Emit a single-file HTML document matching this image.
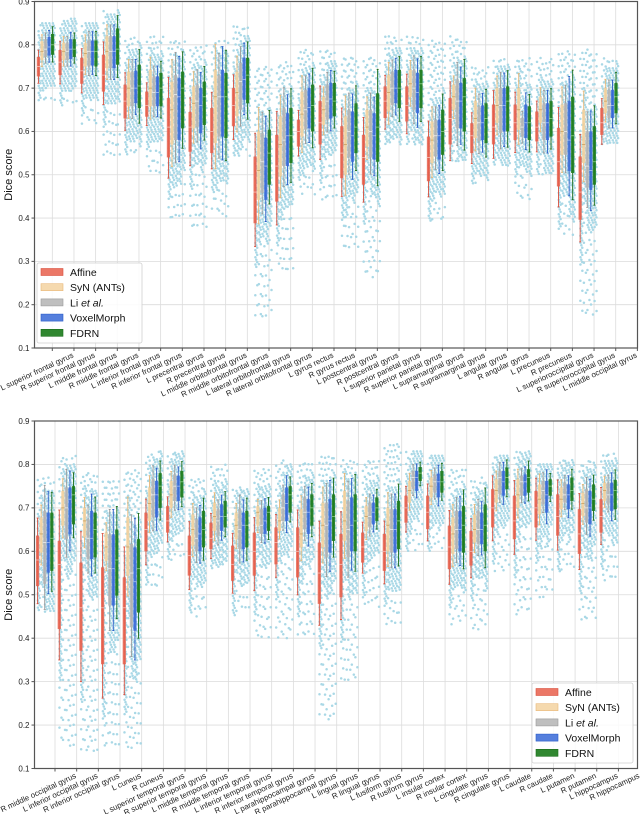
<!DOCTYPE html>
<html><head><meta charset="utf-8">
<style>
html,body{margin:0;padding:0;background:#fff;}
svg{display:block;font-family:"Liberation Sans","DejaVu Sans",sans-serif;}
</style></head>
<body>
<svg id="chart" width="640" height="814" viewBox="0 0 640 814" xmlns="http://www.w3.org/2000/svg"></svg>
<script>
const methods = ["Affine","SyN (ANTs)","Li et al.","VoxelMorph","FDRN"];
const topLabels = ["L superior frontal gyrus","R superior frontal gyrus","L middle frontal gyrus","R middle frontal gyrus","L inferior frontal gyrus","R inferior frontal gyrus","L precentral gyrus","R precentral gyrus","L middle orbitofrontal gyrus","R middle orbitofrontal gyrus","L lateral orbitofrontal gyrus","R lateral orbitofrontal gyrus","L gyrus rectus","R gyrus rectus","L postcentral gyrus","R postcentral gyrus","L superior parietal gyrus","R superior parietal gyrus","L supramarginal gyrus","R supramarginal gyrus","L angular gyrus","R angular gyrus","L precuneus","R precuneus","L superioroccipital gyrus","R superioroccipital gyrus","L middle occipital gyrus"];
const botLabels = ["R middle occipital gyrus","L inferior occipital gyrus","R inferior occipital gyrus","L cuneus","R cuneus","L superior temporal gyrus","R superior temporal gyrus","L middle temporal gyrus","R middle temporal gyrus","L inferior temporal gyrus","R inferior temporal gyrus","L parahippocampal gyrus","R parahippocampal gyrus","L lingual gyrus","R lingual gyrus","L fusiform gyrus","R fusiform gyrus","L insular cortex","R insular cortex","L cingulate gyrus","R cingulate gyrus","L caudate","R caudate","L putamen","R putamen","L hippocampus","R hippocampus"];
const yTicks = [0.1,0.2,0.3,0.4,0.5,0.6,0.7,0.8,0.9];
const yTickLabels = ["0.1","0.2","0.3","0.4","0.5","0.6","0.7","0.8","0.9"];
// [q1, median, q3]
const topAffine = [[.727,.75,.772],[.73,.76,.788],[.71,.74,.77],[.692,.73,.777],[.63,.67,.708],[.634,.66,.692],[.54,.61,.677],[.553,.61,.645],[.55,.60,.654],[.612,.66,.70],[.388,.46,.542],[.438,.52,.592],[.565,.60,.627],[.57,.62,.67],[.492,.55,.612],[.477,.54,.592],[.631,.67,.704],[.623,.66,.704],[.485,.54,.588],[.57,.63,.677],[.55,.59,.619],[.57,.61,.662],[.58,.62,.662],[.577,.61,.646],[.473,.53,.608],[.396,.46,.542],[.592,.62,.654]];
const topSyn = [[.765,.785,.808],[.765,.785,.805],[.75,.78,.804],[.746,.785,.82],[.658,.70,.738],[.658,.70,.742],[.57,.65,.715],[.607,.665,.704],[.573,.68,.742],[.635,.69,.738],[.442,.51,.60],[.496,.57,.635],[.588,.64,.692],[.615,.65,.68],[.50,.57,.635],[.565,.61,.65],[.646,.69,.73],[.68,.71,.742],[.527,.58,.623],[.65,.68,.708],[.585,.63,.67],[.62,.66,.70],[.604,.65,.70],[.62,.65,.68],[.546,.60,.662],[.527,.57,.65],[.642,.67,.70]];
const topLi = [[.772,.79,.813],[.765,.785,.805],[.75,.785,.81],[.746,.785,.82],[.658,.70,.738],[.658,.69,.727],[.58,.685,.73],[.61,.67,.708],[.588,.68,.73],[.65,.715,.758],[.458,.53,.596],[.52,.58,.654],[.604,.65,.696],[.627,.67,.708],[.54,.60,.65],[.54,.60,.65],[.661,.70,.738],[.65,.70,.742],[.542,.59,.627],[.607,.67,.72],[.577,.62,.658],[.596,.66,.70],[.588,.61,.631],[.58,.62,.665],[.546,.60,.665],[.47,.52,.60],[.631,.66,.696]];
const topVM = [[.775,.795,.818],[.767,.79,.813],[.752,.785,.81],[.746,.785,.82],[.665,.70,.74],[.658,.69,.727],[.58,.68,.723],[.596,.66,.70],[.588,.68,.742],[.673,.72,.77],[.442,.52,.585],[.52,.59,.642],[.607,.655,.70],[.63,.675,.712],[.53,.59,.646],[.535,.59,.642],[.665,.70,.742],[.642,.69,.735],[.535,.59,.627],[.607,.67,.712],[.58,.62,.66],[.60,.66,.70],[.585,.62,.662],[.58,.62,.665],[.508,.58,.67],[.465,.51,.60],[.631,.66,.696]];
const topFDRN = [[.777,.80,.825],[.772,.79,.813],[.75,.785,.81],[.754,.79,.838],[.654,.705,.754],[.658,.70,.735],[.607,.70,.738],[.615,.68,.715],[.585,.68,.735],[.665,.73,.77],[.477,.55,.604],[.527,.59,.654],[.60,.66,.708],[.635,.67,.712],[.55,.61,.665],[.53,.61,.688],[.654,.70,.742],[.654,.71,.742],[.546,.60,.65],[.60,.68,.723],[.573,.63,.665],[.60,.67,.704],[.58,.62,.658],[.588,.63,.67],[.504,.59,.68],[.477,.53,.612],[.642,.68,.712]];
const topPtsLo = [.67,.66,.61,.54,.54,.50,.40,.37,.40,.54,.17,.28,.45,.43,.33,.26,.57,.57,.39,.53,.48,.52,.44,.50,.36,.17,.57];
const topPtsHi = [.85,.86,.85,.88,.82,.82,.81,.80,.81,.85,.75,.76,.79,.79,.77,.77,.82,.82,.81,.82,.75,.77,.77,.77,.79,.79,.77];

const botAffine = [[.52,.58,.636],[.421,.57,.624],[.371,.47,.574],[.34,.47,.563],[.34,.47,.54],[.60,.65,.689],[.643,.67,.704],[.544,.59,.636],[.605,.63,.666],[.532,.57,.613],[.544,.60,.643],[.57,.62,.655],[.54,.60,.655],[.479,.55,.62],[.494,.57,.64],[.574,.61,.643],[.555,.60,.64],[.666,.70,.728],[.651,.69,.728],[.559,.61,.659],[.567,.60,.647],[.655,.70,.743],[.628,.67,.728],[.655,.70,.739],[.636,.68,.731],[.594,.64,.697],[.643,.68,.72]];
const botSyn = [[.597,.64,.678],[.659,.70,.739],[.632,.67,.70],[.578,.61,.643],[.544,.61,.678],[.67,.71,.747],[.70,.73,.762],[.613,.65,.685],[.647,.68,.712],[.628,.66,.689],[.659,.69,.704],[.647,.67,.70],[.609,.64,.697],[.609,.66,.712],[.624,.67,.739],[.647,.68,.704],[.60,.66,.70],[.712,.74,.762],[.724,.75,.77],[.594,.64,.678],[.62,.65,.685],[.712,.74,.766],[.70,.73,.766],[.685,.72,.754],[.697,.72,.747],[.681,.71,.735],[.716,.74,.758]];
const botLi = [[.525,.62,.693],[.628,.70,.747],[.582,.63,.674],[.475,.56,.639],[.425,.55,.617],[.678,.73,.766],[.716,.75,.777],[.60,.63,.674],[.636,.67,.697],[.605,.65,.697],[.64,.66,.697],[.67,.70,.731],[.651,.69,.724],[.586,.66,.712],[.586,.65,.716],[.655,.68,.712],[.597,.65,.697],[.743,.77,.785],[.735,.76,.777],[.605,.65,.693],[.617,.65,.693],[.731,.77,.785],[.728,.76,.774],[.708,.74,.762],[.712,.73,.758],[.666,.70,.743],[.708,.73,.758]];
const botVM = [[.551,.62,.689],[.639,.72,.747],[.582,.63,.693],[.475,.56,.639],[.417,.53,.609],[.678,.73,.762],[.716,.75,.774],[.60,.64,.678],[.647,.68,.708],[.605,.66,.689],[.64,.67,.70],[.67,.71,.747],[.64,.69,.72],[.597,.67,.72],[.60,.66,.724],[.662,.69,.712],[.597,.65,.697],[.739,.77,.785],[.724,.76,.779],[.60,.65,.693],[.617,.65,.689],[.728,.76,.785],[.728,.76,.777],[.689,.73,.762],[.697,.73,.754],[.662,.70,.739],[.693,.73,.758]];
const botFDRN = [[.555,.63,.689],[.662,.73,.75],[.586,.65,.689],[.498,.58,.65],[.459,.56,.628],[.70,.75,.78],[.724,.76,.785],[.609,.65,.693],[.655,.68,.716],[.609,.66,.693],[.647,.69,.704],[.689,.73,.75],[.659,.70,.731],[.624,.68,.731],[.60,.67,.731],[.67,.70,.724],[.605,.67,.716],[.762,.78,.794],[.735,.76,.785],[.597,.66,.704],[.60,.66,.708],[.743,.77,.793],[.735,.77,.789],[.728,.75,.766],[.716,.74,.77],[.693,.72,.754],[.697,.74,.764]];
const botPtsLo = [.46,.15,.13,.15,.14,.52,.58,.45,.56,.45,.40,.40,.40,.21,.30,.47,.43,.60,.60,.43,.42,.55,.45,.49,.55,.44,.53];
const botPtsHi = [.77,.82,.78,.77,.79,.83,.83,.77,.80,.75,.79,.81,.81,.82,.81,.81,.85,.83,.82,.79,.77,.82,.83,.80,.81,.81,.83];

const NS = "http://www.w3.org/2000/svg";
const svg = document.getElementById("chart");
function mk(tag, attrs, parent){ const e=document.createElementNS(NS,tag); for(const k in attrs) e.setAttribute(k,attrs[k]); (parent||svg).appendChild(e); return e; }

const fills = ["rgba(232,95,75,0.85)","rgba(243,210,160,0.85)","rgba(180,180,180,0.85)","rgba(55,105,215,0.85)","rgba(30,125,30,0.92)"];
const strokes = ["#d9503e","#e8b878","#9a9a9a","#2a5cc8","#1a6e1a"];
const medCols = ["#f6c0b8","#c9a060","#eeeeee","#a8c0f0","#8ccf8c"];
const boxNames = ["affine","syn","li","voxelmorph","fdrn"];

function drawPanel(p){
  const g = mk("g",{});
  
  
  const L=34.5, R=637.5, T=p.top, B=p.bottom;
  const y = v => T + (0.9 - v)/0.8*(B-T);
  const xg = k => p.g0 + k*21.67;
  const xt = k => p.t0 + k*21.67;
  const grid = mk("g",{},g);
  
  
  yTicks.forEach(v=>{ mk("line",{x1:L,x2:R,y1:y(v),y2:y(v),stroke:"#dcdcdc","stroke-width":0.8},grid); });
  for(let k=0;k<28;k++){ const x=xt(k); if(x<R) mk("line",{x1:x,x2:x,y1:T,y2:B,stroke:"#dcdcdc","stroke-width":0.8},grid); }
  const dots = mk("g",{fill:"#a9d8e6"},g);
  
  
  const sets = p.sets;
  for(let k=0;k<p.labels.length;k++){
    const lo=p.ptsLo[k], hi=p.ptsHi[k];
    for(let m=0;m<5;m++){
      const d=sets[m][k]; const cx=xg(k)+(m-2)*3.55 + 1.2;
      const iqr=d[2]-d[0];
      const dLo=Math.max(lo,d[0]-0.06-iqr*0.3), dHi=Math.min(hi,d[2]+0.05);
      let n=0;
      for(let yy=y(dHi); yy<=y(dLo); yy+=2.4){ mk("circle",{cx:cx+((n++%3)-1)*0.9,cy:yy.toFixed(1),r:1.25},dots); }
      for(let yy=y(dLo)+6+m*1.7; yy<=y(lo); yy+=10){ mk("circle",{cx:cx+((n++%2)?1:-1),cy:yy.toFixed(1),r:1.25},dots); }
      for(let yy=y(dHi)-4-m*1.1; yy>=y(hi); yy-=6){ mk("circle",{cx:cx+((n++%2)?1:-1),cy:yy.toFixed(1),r:1.25},dots); }
    }
  }
  for(let k=0;k<p.labels.length;k++){
    for(let m=0;m<5;m++){
      const d=sets[m][k]; const cx=xg(k)+(m-2)*3.55;
      const iqr=d[2]-d[0];
      const wLo=Math.max(p.ptsLo[k], d[0]-0.35*iqr), wHi=Math.min(p.ptsHi[k], d[2]+0.35*iqr);
      const bg=mk("g",{},g);
      
      
      mk("line",{x1:cx,x2:cx,y1:y(wHi),y2:y(wLo),stroke:strokes[m],"stroke-width":0.9},bg);
      mk("line",{x1:cx-1,x2:cx+1,y1:y(wHi),y2:y(wHi),stroke:strokes[m],"stroke-width":0.9},bg);
      mk("line",{x1:cx-1,x2:cx+1,y1:y(wLo),y2:y(wLo),stroke:strokes[m],"stroke-width":0.9},bg);
      mk("rect",{x:cx-1.6,y:y(d[2]),width:3.2,height:Math.max(1,y(d[0])-y(d[2])),fill:fills[m]},bg);
      mk("line",{x1:cx-1.6,x2:cx+1.6,y1:y(d[1]),y2:y(d[1]),stroke:medCols[m],"stroke-width":0.8},bg);
    }
  }
  const fr=mk("rect",{x:L,y:T,width:R-L,height:B-T,fill:"none",stroke:"#555","stroke-width":1.2},g);
  
  
  yTicks.forEach((v,i)=>{
    mk("line",{x1:L-3,x2:L,y1:y(v),y2:y(v),stroke:"#555","stroke-width":1},g);
    const t=mk("text",{x:L-5,y:y(v)+2.8,"font-size":8,"text-anchor":"end",fill:"#222"},g);
    t.textContent=yTickLabels[i];
    
    
  });
  const yt=mk("text",{x:0,y:0,"font-size":11,"text-anchor":"middle",fill:"#111",transform:`translate(12,${(T+B)/2}) rotate(-90)`},g);
  yt.textContent="Dice score";
  
  
  for(let k=0;k<28;k++){ const x=xt(k); if(x<=R) mk("line",{x1:x,x2:x,y1:B,y2:B+3,stroke:"#555","stroke-width":1},g); }
  p.labels.forEach((lab,k)=>{
    const x=xt(k+1);
    const t=mk("text",{x:0,y:0,"font-size":7.8,"text-anchor":"end",fill:"#222",transform:`translate(${x.toFixed(1)},${B+9}) rotate(-25)`},g);
    t.textContent=lab;
    
    
  });
  const lg=mk("g",{},g);
  
  
  mk("rect",{x:p.lx,y:p.ly,width:p.lw,height:80,fill:"rgba(255,255,255,0.85)",stroke:"#d0d0d0","stroke-width":0.8,rx:2},lg);
  methods.forEach((mname,m)=>{
    const ey=p.ly+9+m*15.2;
    const e=mk("g",{},lg);
    
    
    mk("rect",{x:p.lx+4,y:ey-3.5,width:22,height:7,fill:fills[m],stroke:strokes[m],"stroke-width":0.6},e);
    const t=mk("text",{x:p.lx+33,y:ey+4,"font-size":10.5,fill:"#111"},e);
    if(m===2){ t.textContent="Li "; const it=mk("tspan",{"font-style":"italic"},t); it.textContent="et al."; }
    else t.textContent=mname;
  });
}

drawPanel({name:"top-panel",top:1.5,bottom:348,g0:45.5,t0:52.3,labels:topLabels,sets:[topAffine,topSyn,topLi,topVM,topFDRN],ptsLo:topPtsLo,ptsHi:topPtsHi,lx:37,ly:263,lw:105});
drawPanel({name:"bottom-panel",top:421,bottom:768.5,g0:44.7,t0:55,labels:botLabels,sets:[botAffine,botSyn,botLi,botVM,botFDRN],ptsLo:botPtsLo,ptsHi:botPtsHi,lx:532,ly:683,lw:101});
</script>
</body></html>
